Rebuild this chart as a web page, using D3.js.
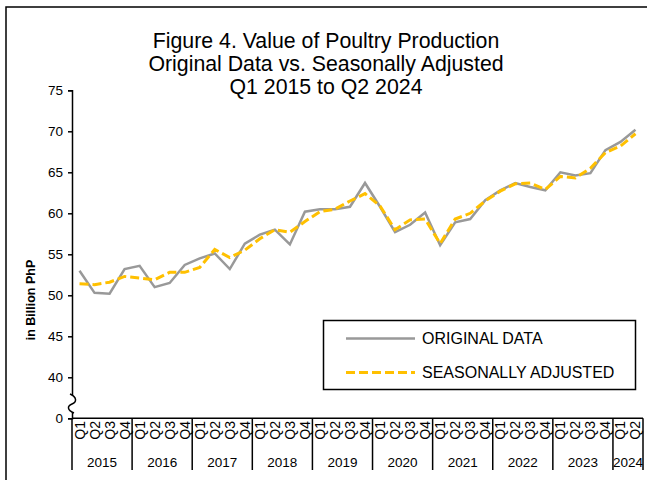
<!DOCTYPE html>
<html>
<head>
<meta charset="utf-8">
<script src="https://cdn.jsdelivr.net/npm/d3@7"></script>
<style>
  body { margin: 0; background: #fff; }
  svg { display: block; font-family: 'Liberation Sans', Arial, sans-serif; }
</style>
</head>
<body>
<script>
'use strict';

// chart values
const years = ['2015', '2016', '2017', '2018', '2019', '2020', '2021', '2022', '2023', '2024'];
const quartersPerYear = [4, 4, 4, 4, 4, 4, 4, 4, 4, 2];
const quarterNames = ['Q1', 'Q2', 'Q3', 'Q4'];
const original = [
  53.0, 50.3, 50.2, 53.2,
  53.6, 51.0, 51.5, 53.7,
  54.5, 55.1, 53.2, 56.3,
  57.4, 58.0, 56.2, 60.2,
  60.5, 60.5, 60.8, 63.7,
  60.8, 57.7, 58.6, 60.1,
  56.1, 58.9, 59.3, 61.6,
  62.8, 63.7, 63.2, 62.8,
  65.0, 64.6, 64.9, 67.7,
  68.7, 70.2
];
const adjusted = [
  51.4, 51.3, 51.6, 52.3,
  52.1, 51.9, 52.8, 52.8,
  53.4, 55.6, 54.6, 55.5,
  56.9, 58.0, 57.7, 59.0,
  60.2, 60.5, 61.5, 62.4,
  60.9, 58.0, 59.2, 59.3,
  56.3, 59.3, 60.0, 61.5,
  62.7, 63.6, 63.7, 62.9,
  64.5, 64.3, 65.5, 67.4,
  68.2, 69.7
];
const yTicks = [35, 40, 45, 50, 55, 60, 65, 70, 75];
const titleLines = ['Figure 4. Value of Poultry Production', 'Original Data vs. Seasonally Adjusted', 'Q1 2015 to Q2 2024'];
const seriesNames = ['ORIGINAL DATA', 'SEASONALLY ADJUSTED'];

const W = 647, H = 480;
const plot = { left: 72, right: 643, top: 90.3, bottom: 418.3 };

// one entry per quarter
let periods = [];
years.forEach((yr, yi) => {
  for (let q = 0; q < quartersPerYear[yi]; q++) periods.push({ year: yr, q: quarterNames[q] });
});
periods.forEach((p, i) => { p.key = p.year + p.q; p.orig = original[i]; p.sa = adjusted[i]; });

let svg = d3.select('body').append('svg').attr('width', W).attr('height', H);

// outer frame (runs past the right and bottom edges)
svg.append('rect').attr('x', 6).attr('y', 7).attr('width', 700).attr('height', 520)
  .attr('fill', 'none').attr('stroke', '#000').attr('stroke-width', 1.5);

// title
svg.append('g').selectAll('text').data(titleLines).enter().append('text')
  .attr('x', 326).attr('y', (d, i) => 48 + i * 23)
  .attr('text-anchor', 'middle').attr('font-size', 21.3).attr('fill', '#000')
  .text(d => d);

let xScale = d3.scaleBand().domain(periods.map(p => p.key)).range([plot.left, plot.right]);
let yScale = d3.scaleLinear().domain([35, 75]).range([plot.bottom, plot.top]);

// y axis, the lowest tick is shown as 0 (broken axis)
let yAxis = d3.axisLeft(yScale).tickValues(yTicks).tickSize(4).tickPadding(5)
  .tickFormat(d => d === 35 ? '0' : d);
let gy = svg.append('g').attr('transform', 'translate(' + plot.left + ',0)').call(yAxis);
gy.select('.domain').attr('stroke', '#000').attr('stroke-width', 1.5);
gy.selectAll('.tick line').attr('stroke', '#000').attr('stroke-width', 1.5);
gy.selectAll('.tick text').attr('font-size', 13.5).attr('fill', '#000')
  .attr('font-family', "'Liberation Sans', Arial, sans-serif");

// axis break squiggle
svg.append('rect').attr('x', 67).attr('y', 396).attr('width', 10).attr('height', 16).attr('fill', '#fff');
svg.append('path')
  .attr('d', 'M70,394 C77,397 77,402 72,404 C67,406 67,410 74,413')
  .attr('fill', 'none').attr('stroke', '#000').attr('stroke-width', 1.5);

// x axis: quarters and years
svg.append('line').attr('x1', plot.left).attr('x2', plot.right).attr('y1', plot.bottom).attr('y2', plot.bottom)
  .attr('stroke', '#000').attr('stroke-width', 1.5);

svg.append('g').selectAll('text').data(periods).enter().append('text')
  .attr('transform', d => 'translate(' + (xScale(d.key) + xScale.bandwidth() / 2 + 5) + ',421) rotate(-90)')
  .attr('text-anchor', 'end').attr('font-size', 14).attr('fill', '#000')
  .text(d => d.q);

let yearBounds = [];
let start = 0;
years.forEach((yr, yi) => {
  let first = periods[start].key, last = periods[start + quartersPerYear[yi] - 1].key;
  yearBounds.push({ year: yr, x0: xScale(first), x1: xScale(last) + xScale.bandwidth() });
  start += quartersPerYear[yi];
});

svg.append('g').selectAll('line').data(yearBounds.map(b => b.x0).concat([plot.right])).enter().append('line')
  .attr('x1', d => d).attr('x2', d => d).attr('y1', plot.bottom).attr('y2', 470)
  .attr('stroke', '#000').attr('stroke-width', 1.5);

svg.append('g').selectAll('text').data(yearBounds).enter().append('text')
  .attr('x', d => (d.x0 + d.x1) / 2).attr('y', 467)
  .attr('text-anchor', 'middle').attr('font-size', 13.5).attr('fill', '#000')
  .text(d => d.year);

// y axis title
svg.append('text').attr('transform', 'translate(35,300) rotate(-90)')
  .attr('text-anchor', 'middle').attr('font-size', 12.5).attr('font-weight', 'bold')
  .text('in Billion PhP');

// lines
let cx = d => xScale(d.key) + xScale.bandwidth() / 2;
let lineOrig = d3.line().x(cx).y(d => yScale(d.orig));
let lineSa = d3.line().x(cx).y(d => yScale(d.sa));

svg.append('path').datum(periods).attr('d', lineOrig)
  .attr('fill', 'none').attr('stroke', '#999999').attr('stroke-width', 2.5);
svg.append('path').datum(periods).attr('d', lineSa)
  .attr('fill', 'none').attr('stroke', '#FFC000').attr('stroke-width', 3)
  .attr('stroke-dasharray', '9,4');

// legend
let legend = svg.append('g');
legend.append('rect').attr('x', 323.5).attr('y', 320.5).attr('width', 312).attr('height', 69)
  .attr('fill', '#fff').attr('stroke', '#000').attr('stroke-width', 1.5);
let items = legend.selectAll('g.item').data(seriesNames).enter().append('g')
  .attr('class', 'item').attr('transform', (d, i) => 'translate(0,' + (338.5 + i * 34) + ')');
items.append('line').attr('x1', 346).attr('x2', 415).attr('y1', 0).attr('y2', 0)
  .attr('stroke', (d, i) => i === 0 ? '#999999' : '#FFC000')
  .attr('stroke-width', (d, i) => i === 0 ? 2.5 : 3)
  .attr('stroke-dasharray', (d, i) => i === 0 ? null : '9,4');
items.append('text').attr('x', 422).attr('y', 0).attr('dy', '0.36em')
  .attr('font-size', 16).attr('fill', '#000').text(d => d);
</script>
</body>
</html>
